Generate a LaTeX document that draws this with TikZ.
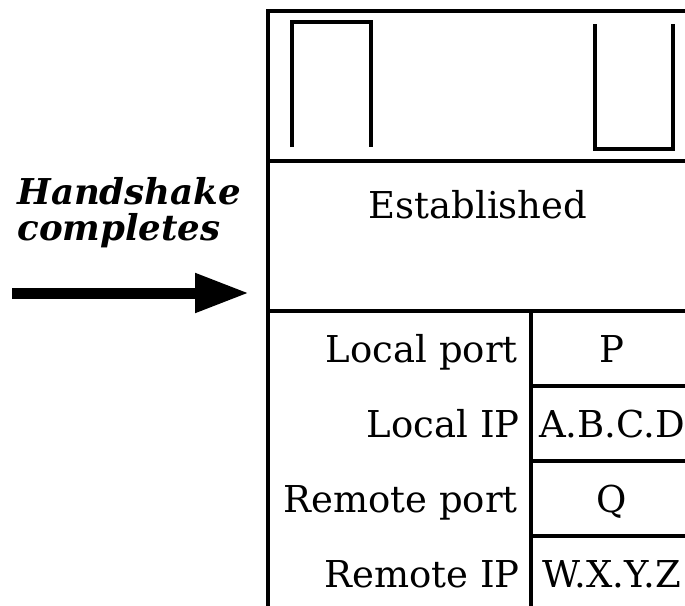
\documentclass[tikz,border=0pt]{standalone}
\usepackage{fontspec}
\setmainfont{DejaVu Serif}
\usetikzlibrary{arrows.meta}
\begin{document}
\begin{tikzpicture}[x=0.5pt,y=-0.5pt,
  rule/.style={line width=1.7pt},
  celltext/.style={font=\fontsize{18.5}{22}\selectfont, inner sep=0pt},
  fieldname/.style={celltext, anchor=base east},
  fieldval/.style={celltext, anchor=base},
  eventtext/.style={font=\fontsize{17.8}{21}\selectfont\bfseries\itshape, inner sep=0pt, anchor=base west},
  bigarrow/.style={line width=5.5pt, -{Triangle[length=27pt,width=18.5pt]}}]
\useasboundingbox (0,0) rectangle (685,605);
\clip (0,0) rectangle (685,605);

% outer frame of the socket record (open on the right)
\draw[rule] (690,11) -- (268,11) -- (268,610);
\draw[rule] (268,161) -- (690,161);
\draw[rule] (268,311) -- (690,311);

% field table
\draw[rule] (531,311) -- (531,610);
\draw[rule] (531,386) -- (690,386);
\draw[rule] (531,461) -- (690,461);
\draw[rule] (531,536) -- (690,536);

% buffer shapes in the top section
\draw[rule] (292,147) -- (292,22) -- (371,22) -- (371,147);
\draw[rule] (595,24) -- (595,149) -- (673,149) -- (673,24);

% state
\node[celltext] (state) at (478,205) {Established};

% fields
\node[fieldname] (lport) at (518,362) {Local port};
\node[fieldname] (lip)   at (520,437) {Local IP};
\node[fieldname] (rport) at (518,512) {Remote port};
\node[fieldname] (rip)   at (520,587) {Remote IP};
\node[fieldval] (lportv) at (612,362) {P};
\node[fieldval] (lipv)   at (612,437) {A.B.C.D};
\node[fieldval] (rportv) at (612,512) {Q};
\node[fieldval] (ripv)   at (612,587) {W.X.Y.Z};

% event
\node[eventtext] (ev1) at (17,204) {Handshake};
\node[eventtext] (ev2) at (17,240) {completes};
\coordinate (tail) at (12,293);
\coordinate (tip) at (249,293);
\draw[bigarrow] (tail) -- (tip);
\end{tikzpicture}
\end{document}
